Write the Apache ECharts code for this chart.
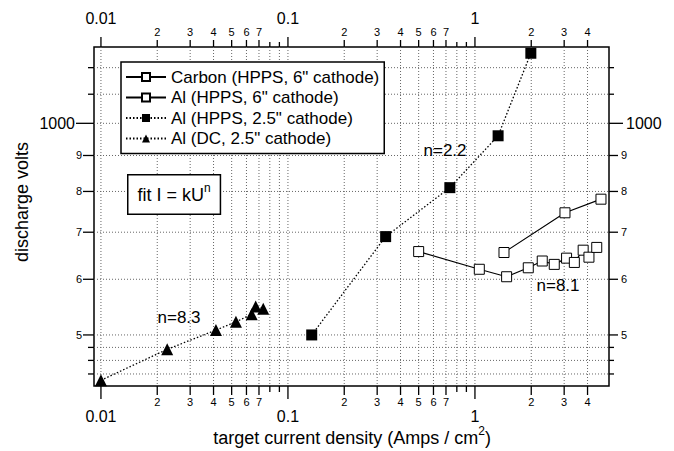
<!DOCTYPE html>
<html>
<head>
<meta charset="utf-8">
<script src="https://cdn.jsdelivr.net/npm/echarts@6/dist/echarts.min.js"></script>
<style>
  html, body { margin: 0; padding: 0; background: #fff; }
  #main { width: 674px; height: 451px; }
</style>
</head>
<body>
<div id="main"></div>
<script>
// values: current density (A/cm^2) vs discharge volts
const carbonX = [1.43, 3.03, 4.72];
const carbonY = [655, 746, 780];
const alHpps6X = [0.5, 1.055, 1.477, 1.928, 2.29, 2.655, 3.09, 3.40, 3.79, 4.07, 4.48];
const alHpps6Y = [657, 620, 605, 623, 637, 630, 643, 634, 660, 645, 666];
const alHpps25X = [0.134, 0.333, 0.734, 1.33, 1.99];
const alHpps25Y = [500, 690, 810, 960, 1258];
const alDcX = [0.01, 0.0226, 0.0412, 0.0527, 0.064, 0.0672, 0.0738];
const alDcY = [431, 477, 508, 522, 535, 549, 545];

// axis ticks (log axes, labelled like the original plot)
const xMajorTicks = [0.01, 0.1, 1];
const xMajorLabels = ['0.01', '0.1', '1'];
const xMinorTicks = [0.02, 0.03, 0.04, 0.05, 0.06, 0.07, 0.08, 0.09,
                     0.2, 0.3, 0.4, 0.5, 0.6, 0.7, 0.8, 0.9, 2, 3, 4];
const xMinorLabels = ['2', '3', '4', '5', '6', '7', '', '',
                      '2', '3', '4', '5', '6', '7', '', '', '2', '3', '4'];
const yMajorTicks = [1000];
const yMajorLabels = ['1000'];
const yMinorTicks = [440, 460, 480, 500, 600, 700, 800, 900, 1100, 1200];
const yMinorLabels = ['', '', '', '5', '6', '7', '8', '9', '', ''];

const FONT = '"Liberation Sans", Arial, sans-serif';

function zip(xs, ys) {
    return xs.map((x, i) => [x, ys[i]]);
}

// tick rows: [value, otherCoord, kind(0 major / 1 minor), index]
const xTickData = xMajorTicks.map((v, i) => [v, 1000, 0, i])
    .concat(xMinorTicks.map((v, i) => [v, 1000, 1, i]));
const yTickData = yMajorTicks.map((v, i) => [1, v, 0, i])
    .concat(yMinorTicks.map((v, i) => [1, v, 1, i]));

const gridDash = { stroke: '#666', lineWidth: 1, lineDash: [1, 2] };
const tickStyle = { stroke: '#000', lineWidth: 1.3 };
const supStyle = { fontSize: 12, lineHeight: 12, fontFamily: FONT, verticalAlign: 'top' };

function txt(text, x, y, size, align) {
    return {
        type: 'text',
        style: {
            text: text, x: x, y: y, align: align, verticalAlign: 'middle',
            fontSize: size, fontFamily: FONT, fill: '#000'
        }
    };
}

function renderXTick(params, api) {
    const cs = params.coordSys;
    const top = cs.y, bottom = cs.y + cs.height;
    const x = api.coord([api.value(0), api.value(1)])[0];
    const major = api.value(2) === 0;
    const idx = api.value(3);
    const label = major ? xMajorLabels[idx] : xMinorLabels[idx];
    const lenB = major ? 13 : (label ? 9 : 6);
    const lenT = major ? 10 : (label ? 7 : 5);
    const children = [
        { type: 'line', shape: { x1: x, y1: top, x2: x, y2: bottom }, style: gridDash },
        { type: 'line', shape: { x1: x, y1: bottom, x2: x, y2: bottom + lenB }, style: tickStyle },
        { type: 'line', shape: { x1: x, y1: top, x2: x, y2: top - lenT }, style: tickStyle }
    ];
    if (label) {
        const fs = major ? 16 : 11;
        children.push(txt(label, x, bottom + (major ? 30 : 16), fs, 'center'));
        children.push(txt(label, x, top - (major ? 29 : 15), fs, 'center'));
    }
    return { type: 'group', children: children };
}

function renderYTick(params, api) {
    const cs = params.coordSys;
    const left = cs.x, right = cs.x + cs.width;
    const y = api.coord([api.value(0), api.value(1)])[1];
    const major = api.value(2) === 0;
    const idx = api.value(3);
    const label = major ? yMajorLabels[idx] : yMinorLabels[idx];
    const lenL = major ? 18 : (label ? 11 : 6);
    const lenR = major ? 14 : (label ? 9 : 5);
    const children = [
        { type: 'line', shape: { x1: left, y1: y, x2: right, y2: y }, style: gridDash },
        { type: 'line', shape: { x1: left - lenL, y1: y, x2: left, y2: y }, style: tickStyle },
        { type: 'line', shape: { x1: right, y1: y, x2: right + lenR, y2: y }, style: tickStyle }
    ];
    if (label) {
        const fs = major ? 16 : 11;
        children.push(txt(label, left - lenL - 1, y, fs, 'right'));
        children.push(txt(label, right + lenR + 3, y, fs, 'left'));
    }
    return { type: 'group', children: children };
}

const chart = echarts.init(document.getElementById('main'), null, { renderer: 'svg' });

const option = {
    animation: false,
    backgroundColor: '#fff',
    textStyle: { fontFamily: FONT },
    grid: {
        left: 94, right: 65, top: 47, bottom: 65,
        show: true, borderColor: '#000', borderWidth: 1.5,
        backgroundColor: 'transparent'
    },
    xAxis: {
        type: 'log', min: 0.00918, max: 5.21,
        axisLine: { show: false }, axisTick: { show: false },
        axisLabel: { show: false }, splitLine: { show: false }
    },
    yAxis: {
        type: 'log', min: 423, max: 1284,
        axisLine: { show: false }, axisTick: { show: false },
        axisLabel: { show: false }, splitLine: { show: false }
    },
    legend: {
        data: ['Carbon (HPPS, 6" cathode)', 'Al (HPPS, 6" cathode)',
               'Al (HPPS, 2.5" cathode)', 'Al (DC, 2.5" cathode)'],
        orient: 'vertical',
        left: 121, top: 62,
        backgroundColor: '#fff',
        borderColor: '#000', borderWidth: 1.5, borderRadius: 0,
        padding: [5, 5, 5, 4],
        itemGap: 0.5, itemWidth: 40, itemHeight: 10,
        textStyle: { fontSize: 17, lineHeight: 20, color: '#000', fontFamily: FONT }
    },
    graphic: [
        {
            type: 'text', left: 127, top: 174, z: 50,
            style: {
                text: 'fit I = kU{sup|n}',
                fontSize: 18, lineHeight: 26, fontFamily: FONT, fill: '#000',
                backgroundColor: '#fff', borderColor: '#000', borderWidth: 1.5,
                padding: [6, 9, 6, 9],
                rich: { sup: supStyle }
            }
        },
        { type: 'text', x: 445, y: 150, z: 50, style: { text: 'n=2.2', fontSize: 17, fontFamily: FONT, fill: '#000', align: 'center', verticalAlign: 'middle' } },
        { type: 'text', x: 179, y: 317, z: 50, style: { text: 'n=8.3', fontSize: 17, fontFamily: FONT, fill: '#000', align: 'center', verticalAlign: 'middle' } },
        { type: 'text', x: 558, y: 285, z: 50, style: { text: 'n=8.1', fontSize: 17, fontFamily: FONT, fill: '#000', align: 'center', verticalAlign: 'middle' } },
        {
            type: 'text', x: 352, y: 438,
            style: {
                text: 'target current density (Amps / cm{sup|2})',
                fontSize: 18, lineHeight: 26, fontFamily: FONT, fill: '#000',
                align: 'center', verticalAlign: 'middle',
                rich: { sup: supStyle }
            }
        },
        {
            type: 'text', x: 22, y: 202, rotation: Math.PI / 2,
            style: {
                text: 'discharge volts', fontSize: 18, fontFamily: FONT, fill: '#000',
                align: 'center', verticalAlign: 'middle'
            }
        }
    ],
    series: [
        {
            type: 'custom', coordinateSystem: 'cartesian2d', silent: true, clip: false, z: 1,
            encode: { x: 0, y: 1 },
            data: xTickData, renderItem: renderXTick
        },
        {
            type: 'custom', coordinateSystem: 'cartesian2d', silent: true, clip: false, z: 1,
            encode: { x: 0, y: 1 },
            data: yTickData, renderItem: renderYTick
        },
        {
            name: 'Carbon (HPPS, 6" cathode)', type: 'line', z: 3,
            data: zip(carbonX, carbonY),
            symbol: 'rect', symbolSize: 10,
            lineStyle: { color: '#000', width: 1.2 },
            itemStyle: { color: '#fff', borderColor: '#000', borderWidth: 1 }
        },
        {
            name: 'Al (HPPS, 6" cathode)', type: 'line', z: 3,
            data: zip(alHpps6X, alHpps6Y),
            symbol: 'rect', symbolSize: 10,
            lineStyle: { color: '#000', width: 1.2 },
            itemStyle: { color: '#fff', borderColor: '#000', borderWidth: 1 }
        },
        {
            name: 'Al (HPPS, 2.5" cathode)', type: 'line', z: 3,
            data: zip(alHpps25X, alHpps25Y),
            symbol: 'rect', symbolSize: 11,
            lineStyle: { color: '#000', width: 1.3, type: [1.5, 2] },
            itemStyle: { color: '#000' }
        },
        {
            name: 'Al (DC, 2.5" cathode)', type: 'line', z: 3,
            data: zip(alDcX, alDcY),
            symbol: 'triangle', symbolSize: 12,
            lineStyle: { color: '#000', width: 1.3, type: [1.5, 2] },
            itemStyle: { color: '#000' }
        }
    ]
};

chart.setOption(option);
</script>
</body>
</html>
